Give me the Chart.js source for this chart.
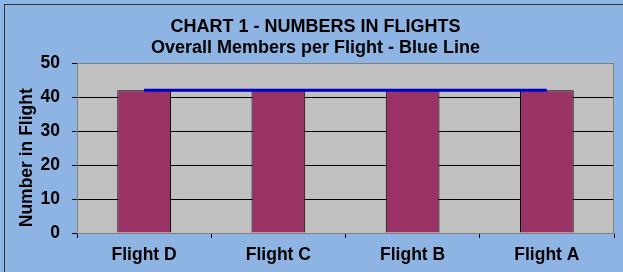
<!DOCTYPE html>
<html>
<head>
<meta charset="utf-8">
<script src="https://cdn.jsdelivr.net/npm/chart.js@4/dist/chart.umd.min.js"></script>
<style>
  html, body { margin: 0; padding: 0; background: #8EB4E3; }
  #wrap { width: 623px; height: 272px; }
</style>
</head>
<body>
<div id="wrap"><canvas id="chart" width="623" height="272"></canvas></div>
<script>
const flights = ['Flight D', 'Flight C', 'Flight B', 'Flight A'];
const membersPerFlight = [42, 42, 42, 42];
const overallMembers = [42, 42, 42, 42];
const yTicks = [0, 10, 20, 30, 40, 50];

const family = "'Liberation Sans', Arial, sans-serif";
const font = { family, size: 17.5, weight: 'bold' };

// outer frame + grey plot background
const frame = {
  id: 'frame',
  beforeDraw: (chart) => {
    const { ctx, chartArea } = chart;
    ctx.save();
    ctx.fillStyle = '#8EB4E3';
    ctx.fillRect(0, 0, chart.width, chart.height);
    ctx.strokeStyle = '#333333';
    ctx.lineWidth = 1;
    ctx.strokeRect(4.5, 4.5, 700, 400);
    ctx.fillStyle = '#C0C0C0';
    ctx.fillRect(chartArea.left, chartArea.top, chartArea.right - chartArea.left, chartArea.bottom - chartArea.top);
    ctx.restore();
  },
  afterDatasetsDraw: (chart) => {
    const { ctx, chartArea } = chart;
    ctx.save();
    ctx.strokeStyle = '#808080';
    ctx.lineWidth = 1;
    ctx.strokeRect(chartArea.left + 0.5, chartArea.top + 0.5, chartArea.right - chartArea.left - 1, chartArea.bottom - chartArea.top);
    ctx.restore();
  }
};

new Chart(document.getElementById('chart'), {
  data: {
    labels: flights,
    datasets: [
      {
        type: 'line',
        label: 'Overall',
        data: overallMembers,
        borderColor: '#0000CC',
        borderWidth: 3,
        pointRadius: 0,
        order: 0,
      },
      {
        type: 'bar',
        label: 'Members',
        data: membersPerFlight,
        backgroundColor: '#993366',
        borderColor: '#000000',
        borderWidth: 1,
        barPercentage: 0.4,
        categoryPercentage: 1,
        order: 1,
      },
    ],
  },
  options: {
    responsive: false,
    animation: false,
    layout: { padding: { left: 17, right: 9, top: 0, bottom: 0 } },
    plugins: {
      legend: { display: false },
      tooltip: { enabled: false },
      title: {
        display: true,
        text: ['CHART 1 - NUMBERS IN FLIGHTS', 'Overall Members per Flight - Blue Line'],
        color: '#000000',
        font: { family, size: 18, weight: 'bold', lineHeight: '20.5px' },
        padding: { top: 17, bottom: 5 },
      },
    },
    scales: {
      x: {
        offset: true,
        grid: { offset: true, drawOnChartArea: false, drawTicks: true, tickLength: 5, color: '#000000' },
        border: { color: '#808080' },
        ticks: { color: '#000000', font, padding: 7 },
        afterFit: (scale) => { scale.height = 39; },
      },
      y: {
        min: 0,
        max: 50,
        afterBuildTicks: (scale) => { scale.ticks = yTicks.map(v => ({ value: v })); },
        grid: { color: '#000000', tickLength: 5, tickColor: '#000000' },
        border: { color: '#808080' },
        ticks: { color: '#000000', font, padding: 12 },
        // trailing spaces nudge the rotated title down, as in the original
        title: { display: true, text: 'Number in Flight    ', color: '#000000', font, padding: 0 },
        afterFit: (scale) => { scale.width = 60; },
      },
    },
  },
  plugins: [frame],
});
</script>
</body>
</html>
